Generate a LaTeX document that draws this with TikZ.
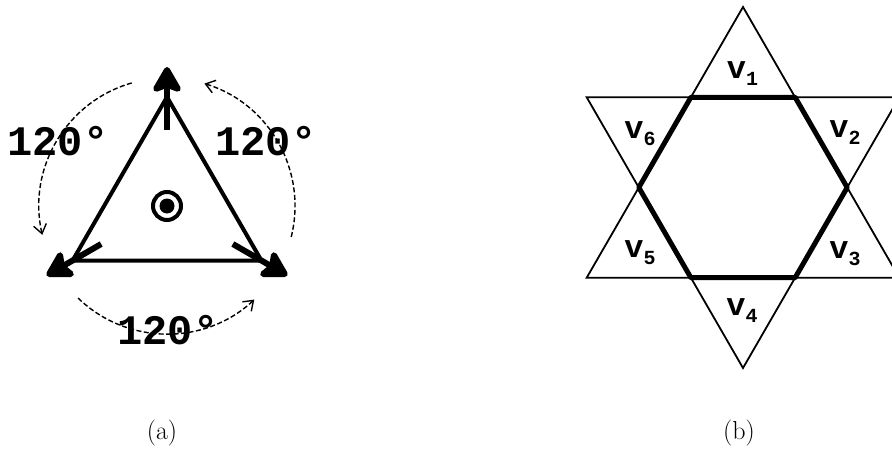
\documentclass[tikz,border=0pt]{standalone}
\usepackage{fontspec}
\usepackage{tikz}
\usetikzlibrary{arrows.meta,calc}

\newfontfamily\labfont{Liberation Mono}
\newcommand{\vsub}[1]{\raisebox{-7pt}{\fontsize{20}{20}\selectfont #1}}

\begin{document}
\begin{tikzpicture}[
  x=1pt, y=1pt,
  >=Latex,
  deg/.style={font=\fontsize{42}{42}\selectfont\labfont\bfseries, inner sep=0pt},
  vlab/.style={font=\fontsize{32}{32}\selectfont\labfont\bfseries, inner sep=0pt},
  captext/.style={font=\fontsize{26}{26}\selectfont, inner sep=0pt},
  edge/.style={line width=4pt, line join=round},
  rot/.style={line width=6pt, -{Stealth[length=30pt,width=34pt,inset=6pt,round]}},
  turn/.style={line width=1.4pt, dash pattern=on 5pt off 2.5pt,
    -{Straight Barb[length=9pt,width=13pt]}},
  starline/.style={line width=1.8pt, line join=miter},
  hexline/.style={line width=5pt, line join=round},
  axis/.style={circle, draw, line width=4pt, minimum size=28pt, inner sep=0pt}
]
\useasboundingbox (0,0) rectangle (892,451);

% ---- (a) rotating triangle ----
\coordinate (C) at (167,245);
\coordinate (top) at ($(C)+(90:109)$);
\coordinate (bl) at ($(C)+(210:109)$);
\coordinate (br) at ($(C)+(330:109)$);
\draw[edge] (top) -- (bl) -- (br) -- cycle;

\foreach \a/\n in {90/top,210/bl,330/br} {
  \coordinate (\n-in) at ($(C)+(\a:76)$);
  \coordinate (\n-out) at ($(C)+(\a:139)$);
  \draw[rot] (\n-in) -- (\n-out);
}

\node[axis] (ax) at (C) {};
\fill (ax.center) circle (7.5pt);

% dashed 120 degree turns
\foreach \s in {106,226,346} {
  \draw[turn] ($(C)+(\s:128)$) arc[start angle=\s, delta angle=87, radius=128];
}

\node[deg] (degl) at (58,310) {120\textdegree};
\node[deg] (degr) at (266,310) {120\textdegree};
\node[deg] (degb) at (168,121) {120\textdegree};

\node[captext] (capa) at (162,17.5) {(a)};

% ---- (b) star and hexagon ----
\coordinate (S) at (743,263.5);
\foreach \a/\n in {90/up1,210/up2,330/up3,270/dn1,30/dn2,150/dn3} {
  \coordinate (\n) at ($(S)+(\a:180.5)$);
}
\draw[starline] (up1) -- (up2) -- (up3) -- cycle;
\draw[starline] (dn1) -- (dn2) -- (dn3) -- cycle;

\draw[hexline] ($(S)+(0:104.2)$)
  \foreach \a in {60,120,...,300} { -- ($(S)+(\a:104.2)$) } -- cycle;

\node[vlab] (v1) at (742.5,377.5) {v\vsub{1}};
\node[vlab] (v2) at (845,318.5) {v\vsub{2}};
\node[vlab] (v3) at (845,197.5) {v\vsub{3}};
\node[vlab] (v4) at (742,140) {v\vsub{4}};
\node[vlab] (v5) at (640,198.5) {v\vsub{5}};
\node[vlab] (v6) at (640,317.5) {v\vsub{6}};

\node[captext] (capb) at (739,17.5) {(b)};

\end{tikzpicture}
\end{document}
